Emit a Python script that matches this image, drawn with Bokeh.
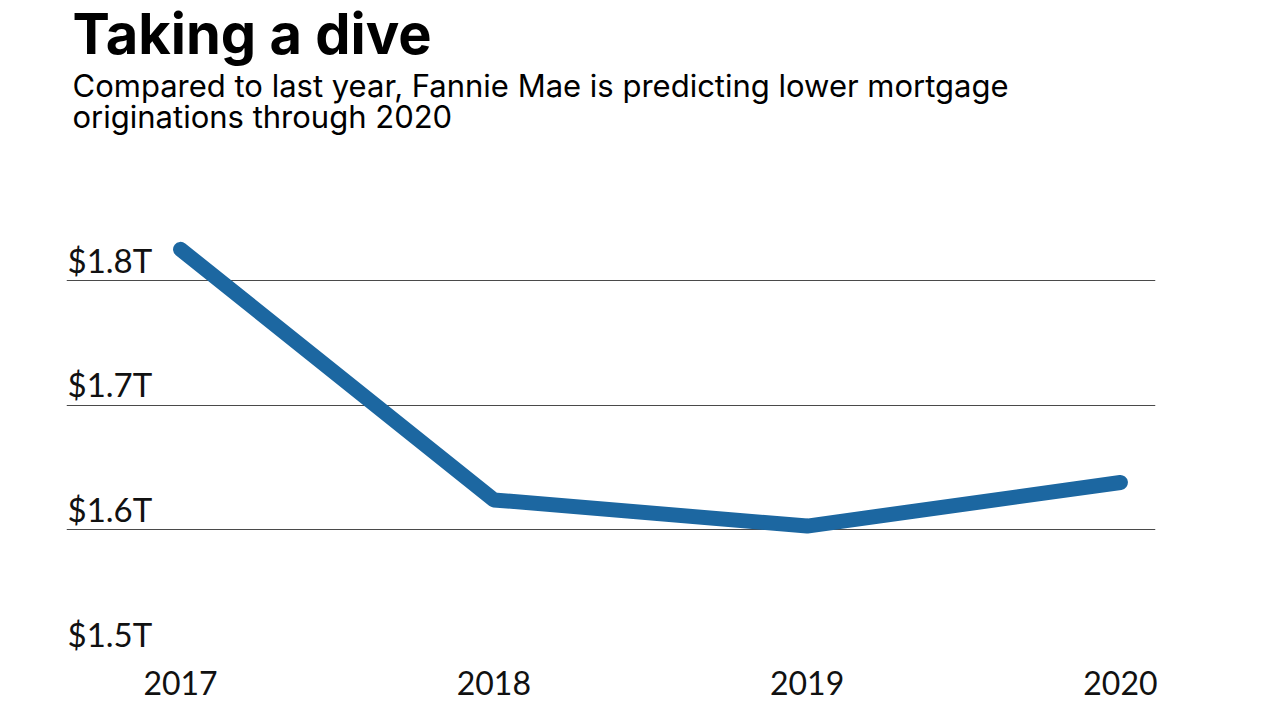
from bokeh.plotting import figure
from bokeh.models import Label, FixedTicker, Range1d
from bokeh.embed import file_html
from bokeh.resources import INLINE

years = [2017, 2018, 2019, 2020]
originations = [1.825, 1.624, 1.603, 1.638]
y_ticks = [1.5, 1.6, 1.7, 1.8]
y_tick_labels = ["$1.5T", "$1.6T", "$1.7T", "$1.8T"]
title_text = "Taking a dive"
subtitle_lines = ["Compared to last year, Fannie Mae is predicting lower mortgage",
                  "originations through 2020"]

FONT = "Lato"
HEAD_FONT = "Inter"

p = figure(width=1264, height=704, output_backend="svg", toolbar_location=None,
           x_range=Range1d(2016.636, 2020.112), y_range=Range1d(1.5, 2.0246),
           min_border_left=66, min_border_right=109, min_border_top=0, min_border_bottom=50)
p.outline_line_color = None
p.background_fill_color = "white"
p.border_fill_color = "white"

p.xgrid.grid_line_color = None
p.ygrid.ticker = FixedTicker(ticks=y_ticks)
p.ygrid.grid_line_color = "#4a4a4a"
p.ygrid.grid_line_width = 1
p.yaxis.visible = False

p.xaxis.ticker = FixedTicker(ticks=years)
p.xaxis.axis_line_color = None
p.xaxis.major_tick_line_color = None
p.xaxis.minor_tick_line_color = None
p.xaxis.major_label_text_font = FONT
p.xaxis.major_label_text_font_size = "32px"
p.xaxis.major_label_text_color = "#111111"
p.xaxis.major_label_standoff = 10

p.line(years, originations, line_color="#1c67a1", line_width=15,
       line_cap="round", line_join="round")

for v, t in zip(y_ticks, y_tick_labels):
    p.add_layout(Label(x=1, y=v, x_units="screen", y_units="data", text=t,
                       y_offset=21, text_font=FONT, text_font_size="33px",
                       text_color="#111111", text_baseline="alphabetic", text_align="left"))

p.add_layout(Label(x=6, y=621, x_units="screen", y_units="screen", text=title_text,
                   text_font=HEAD_FONT, text_font_style="bold", text_font_size="56px",
                   text_color="#000000", text_baseline="alphabetic"))
p.add_layout(Label(x=6, y=569, x_units="screen", y_units="screen", text=subtitle_lines[0],
                   text_font=HEAD_FONT, text_font_size="31px",
                   text_color="#000000", text_baseline="alphabetic"))
p.add_layout(Label(x=6, y=538, x_units="screen", y_units="screen", text=subtitle_lines[1],
                   text_font=HEAD_FONT, text_font_size="31px",
                   text_color="#000000", text_baseline="alphabetic"))

open("out.html", "w").write(file_html(p, INLINE))
